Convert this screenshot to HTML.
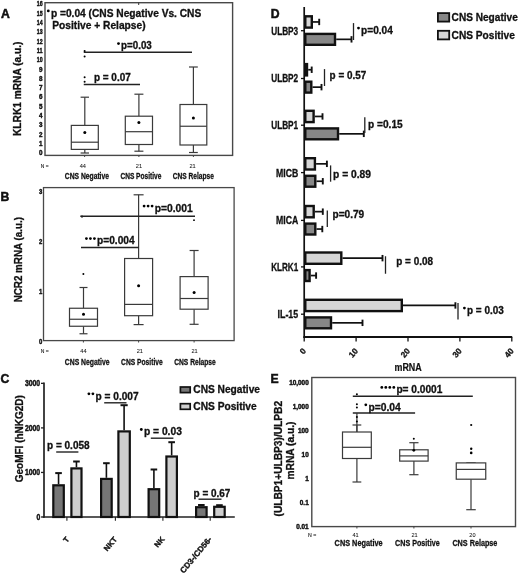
<!DOCTYPE html>
<html><head><meta charset="utf-8"><style>
html,body{margin:0;padding:0;background:#fff;}
svg{display:block;font-family:"Liberation Sans", sans-serif;font-weight:bold;}
svg text{fill:#111;stroke:#111;stroke-width:0.3px;}
</style></head><body>
<svg width="520" height="574" viewBox="0 0 520 574" style="filter:grayscale(1) blur(0.3px)">
<rect width="520" height="574" fill="#fff"/>
<text x="1.00" y="17.60" font-size="12.2" style="stroke-width:0.5px">A</text>
<text x="21.20" y="88.75" font-size="10.2" text-anchor="middle" textLength="94.50" lengthAdjust="spacingAndGlyphs" transform="rotate(-90 21.20 88.75)">KLRK1 mRNA (a.u.)</text>
<rect x="45.00" y="2.70" width="187.60" height="152.70" fill="none" stroke="#484848" stroke-width="1.4"/>
<text x="42.60" y="155.40" font-size="7.5" text-anchor="end" textLength="3.50" lengthAdjust="spacingAndGlyphs" style="stroke-width:0.45px">0</text>
<text x="42.60" y="146.08" font-size="7.5" text-anchor="end" textLength="3.50" lengthAdjust="spacingAndGlyphs" style="stroke-width:0.45px">1</text>
<text x="42.60" y="136.76" font-size="7.5" text-anchor="end" textLength="3.50" lengthAdjust="spacingAndGlyphs" style="stroke-width:0.45px">2</text>
<text x="42.60" y="127.44" font-size="7.5" text-anchor="end" textLength="3.50" lengthAdjust="spacingAndGlyphs" style="stroke-width:0.45px">3</text>
<text x="42.60" y="118.12" font-size="7.5" text-anchor="end" textLength="3.50" lengthAdjust="spacingAndGlyphs" style="stroke-width:0.45px">4</text>
<text x="42.60" y="108.80" font-size="7.5" text-anchor="end" textLength="3.50" lengthAdjust="spacingAndGlyphs" style="stroke-width:0.45px">5</text>
<text x="42.60" y="99.48" font-size="7.5" text-anchor="end" textLength="3.50" lengthAdjust="spacingAndGlyphs" style="stroke-width:0.45px">6</text>
<text x="42.60" y="90.16" font-size="7.5" text-anchor="end" textLength="3.50" lengthAdjust="spacingAndGlyphs" style="stroke-width:0.45px">7</text>
<text x="42.60" y="80.84" font-size="7.5" text-anchor="end" textLength="3.50" lengthAdjust="spacingAndGlyphs" style="stroke-width:0.45px">8</text>
<text x="42.60" y="71.52" font-size="7.5" text-anchor="end" textLength="3.50" lengthAdjust="spacingAndGlyphs" style="stroke-width:0.45px">9</text>
<text x="42.60" y="62.20" font-size="7.5" text-anchor="end" textLength="5.80" lengthAdjust="spacingAndGlyphs" style="stroke-width:0.45px">10</text>
<text x="42.60" y="52.88" font-size="7.5" text-anchor="end" textLength="5.80" lengthAdjust="spacingAndGlyphs" style="stroke-width:0.45px">11</text>
<text x="42.60" y="43.56" font-size="7.5" text-anchor="end" textLength="5.80" lengthAdjust="spacingAndGlyphs" style="stroke-width:0.45px">12</text>
<text x="42.60" y="34.24" font-size="7.5" text-anchor="end" textLength="5.80" lengthAdjust="spacingAndGlyphs" style="stroke-width:0.45px">13</text>
<text x="42.60" y="24.92" font-size="7.5" text-anchor="end" textLength="5.80" lengthAdjust="spacingAndGlyphs" style="stroke-width:0.45px">14</text>
<text x="42.60" y="15.60" font-size="7.5" text-anchor="end" textLength="5.80" lengthAdjust="spacingAndGlyphs" style="stroke-width:0.45px">15</text>
<text x="42.60" y="6.28" font-size="7.5" text-anchor="end" textLength="5.80" lengthAdjust="spacingAndGlyphs" style="stroke-width:0.45px">16</text>
<line x1="138.70" y1="2.60" x2="138.70" y2="5.00" stroke="#333" stroke-width="1"/>
<line x1="84.60" y1="155.00" x2="84.60" y2="157.00" stroke="#444" stroke-width="1"/>
<line x1="138.90" y1="155.00" x2="138.90" y2="157.00" stroke="#444" stroke-width="1"/>
<line x1="193.40" y1="155.00" x2="193.40" y2="157.00" stroke="#444" stroke-width="1"/>
<line x1="84.80" y1="97.20" x2="84.80" y2="125.40" stroke="#3a3a3a" stroke-width="1.2"/>
<line x1="84.80" y1="149.40" x2="84.80" y2="153.00" stroke="#3a3a3a" stroke-width="1.2"/>
<line x1="80.60" y1="97.20" x2="89.00" y2="97.20" stroke="#3a3a3a" stroke-width="1.2"/>
<line x1="80.60" y1="153.00" x2="89.00" y2="153.00" stroke="#3a3a3a" stroke-width="1.2"/>
<rect x="71.30" y="125.40" width="27.00" height="24.00" fill="#fff" stroke="#3a3a3a" stroke-width="1.2"/>
<line x1="71.30" y1="142.20" x2="98.30" y2="142.20" stroke="#3a3a3a" stroke-width="1.2"/>
<circle cx="84.80" cy="132.50" r="1.5" fill="#000"/>
<line x1="138.90" y1="94.20" x2="138.90" y2="116.20" stroke="#3a3a3a" stroke-width="1.2"/>
<line x1="138.90" y1="144.50" x2="138.90" y2="151.20" stroke="#3a3a3a" stroke-width="1.2"/>
<line x1="134.40" y1="94.20" x2="143.40" y2="94.20" stroke="#3a3a3a" stroke-width="1.2"/>
<line x1="134.40" y1="151.20" x2="143.40" y2="151.20" stroke="#3a3a3a" stroke-width="1.2"/>
<rect x="125.30" y="116.20" width="27.20" height="28.30" fill="#fff" stroke="#3a3a3a" stroke-width="1.2"/>
<line x1="125.30" y1="131.70" x2="152.50" y2="131.70" stroke="#3a3a3a" stroke-width="1.2"/>
<circle cx="138.90" cy="122.50" r="1.5" fill="#000"/>
<line x1="193.40" y1="67.00" x2="193.40" y2="104.50" stroke="#3a3a3a" stroke-width="1.2"/>
<line x1="193.40" y1="145.00" x2="193.40" y2="152.50" stroke="#3a3a3a" stroke-width="1.2"/>
<line x1="189.00" y1="67.00" x2="197.80" y2="67.00" stroke="#3a3a3a" stroke-width="1.2"/>
<line x1="189.00" y1="152.50" x2="197.80" y2="152.50" stroke="#3a3a3a" stroke-width="1.2"/>
<rect x="180.00" y="104.50" width="26.80" height="40.50" fill="#fff" stroke="#3a3a3a" stroke-width="1.2"/>
<line x1="180.00" y1="126.25" x2="206.80" y2="126.25" stroke="#3a3a3a" stroke-width="1.2"/>
<circle cx="193.40" cy="118.00" r="1.5" fill="#000"/>
<line x1="83.75" y1="52.20" x2="192.00" y2="52.20" stroke="#222" stroke-width="1.5"/>
<line x1="83.75" y1="84.50" x2="140.00" y2="84.50" stroke="#222" stroke-width="1.5"/>
<circle cx="84.60" cy="51.00" r="1.0" fill="#000"/>
<circle cx="84.60" cy="56.40" r="1.0" fill="#000"/>
<circle cx="84.60" cy="77.30" r="1.0" fill="#000"/>
<circle cx="84.60" cy="81.70" r="1.0" fill="#000"/>
<circle cx="48.30" cy="10.90" r="1.4" fill="#000"/>
<text x="50.90" y="16.60" font-size="10.2" textLength="150.40" lengthAdjust="spacingAndGlyphs">p =0.04 (CNS Negative Vs. CNS</text>
<text x="52.30" y="28.50" font-size="10.2" textLength="93.30" lengthAdjust="spacingAndGlyphs">Positive + Relapse)</text>
<circle cx="118.50" cy="43.60" r="1.4" fill="#000"/>
<text x="121.10" y="49.30" font-size="10" textLength="30.70" lengthAdjust="spacingAndGlyphs">p=0.03</text>
<text x="93.90" y="80.80" font-size="10" textLength="36.90" lengthAdjust="spacingAndGlyphs">p = 0.07</text>
<text x="40.80" y="167.80" font-size="5.2" font-weight="normal" textLength="7.70" lengthAdjust="spacingAndGlyphs" style="stroke-width:0.1px">N =</text>
<text x="82.80" y="167.90" font-size="5.6" font-weight="normal" text-anchor="middle" style="stroke-width:0.05px">44</text>
<text x="64.80" y="179.10" font-size="9" textLength="44.20" lengthAdjust="spacingAndGlyphs" style="stroke-width:0.3px">CNS Negative</text>
<text x="138.90" y="167.90" font-size="5.6" font-weight="normal" text-anchor="middle" style="stroke-width:0.05px">21</text>
<text x="120.40" y="179.10" font-size="9" textLength="40.90" lengthAdjust="spacingAndGlyphs" style="stroke-width:0.3px">CNS Positive</text>
<text x="192.60" y="167.90" font-size="5.6" font-weight="normal" text-anchor="middle" style="stroke-width:0.05px">21</text>
<text x="172.80" y="179.10" font-size="9" textLength="41.10" lengthAdjust="spacingAndGlyphs" style="stroke-width:0.3px">CNS Relapse</text>
<text x="0.60" y="200.80" font-size="12.2" style="stroke-width:0.5px">B</text>
<text x="22.40" y="259.70" font-size="10" text-anchor="middle" textLength="85.30" lengthAdjust="spacingAndGlyphs" transform="rotate(-90 22.40 259.70)">NCR2 mRNA (a.u.)</text>
<rect x="43.50" y="187.60" width="190.60" height="153.00" fill="none" stroke="#484848" stroke-width="1.3"/>
<text x="42.20" y="343.50" font-size="7.5" text-anchor="end" textLength="3.30" lengthAdjust="spacingAndGlyphs" style="stroke-width:0.45px">0</text>
<text x="42.20" y="293.80" font-size="7.5" text-anchor="end" textLength="3.30" lengthAdjust="spacingAndGlyphs" style="stroke-width:0.45px">1</text>
<text x="42.20" y="244.10" font-size="7.5" text-anchor="end" textLength="3.30" lengthAdjust="spacingAndGlyphs" style="stroke-width:0.45px">2</text>
<text x="42.20" y="194.40" font-size="7.5" text-anchor="end" textLength="3.30" lengthAdjust="spacingAndGlyphs" style="stroke-width:0.45px">3</text>
<line x1="83.40" y1="340.50" x2="83.40" y2="342.50" stroke="#444" stroke-width="1"/>
<line x1="138.60" y1="340.50" x2="138.60" y2="342.50" stroke="#444" stroke-width="1"/>
<line x1="194.10" y1="340.50" x2="194.10" y2="342.50" stroke="#444" stroke-width="1"/>
<line x1="83.50" y1="287.50" x2="83.50" y2="308.25" stroke="#3a3a3a" stroke-width="1.2"/>
<line x1="83.50" y1="326.25" x2="83.50" y2="333.75" stroke="#3a3a3a" stroke-width="1.2"/>
<line x1="79.50" y1="287.50" x2="87.50" y2="287.50" stroke="#3a3a3a" stroke-width="1.2"/>
<line x1="79.50" y1="333.75" x2="87.50" y2="333.75" stroke="#3a3a3a" stroke-width="1.2"/>
<rect x="69.50" y="308.25" width="28.00" height="18.00" fill="#fff" stroke="#3a3a3a" stroke-width="1.2"/>
<line x1="69.50" y1="319.25" x2="97.50" y2="319.25" stroke="#3a3a3a" stroke-width="1.2"/>
<circle cx="83.50" cy="314.25" r="1.5" fill="#000"/>
<line x1="138.60" y1="194.80" x2="138.60" y2="258.50" stroke="#3a3a3a" stroke-width="1.2"/>
<line x1="138.60" y1="315.70" x2="138.60" y2="324.60" stroke="#3a3a3a" stroke-width="1.2"/>
<line x1="133.60" y1="194.80" x2="143.60" y2="194.80" stroke="#3a3a3a" stroke-width="1.2"/>
<line x1="133.60" y1="324.60" x2="143.60" y2="324.60" stroke="#3a3a3a" stroke-width="1.2"/>
<rect x="124.60" y="258.50" width="28.00" height="57.20" fill="#fff" stroke="#3a3a3a" stroke-width="1.2"/>
<line x1="124.60" y1="304.40" x2="152.60" y2="304.40" stroke="#3a3a3a" stroke-width="1.2"/>
<circle cx="138.60" cy="285.80" r="1.5" fill="#000"/>
<line x1="194.10" y1="250.50" x2="194.10" y2="276.60" stroke="#3a3a3a" stroke-width="1.2"/>
<line x1="194.10" y1="309.20" x2="194.10" y2="324.30" stroke="#3a3a3a" stroke-width="1.2"/>
<line x1="189.60" y1="250.50" x2="198.60" y2="250.50" stroke="#3a3a3a" stroke-width="1.2"/>
<line x1="189.60" y1="324.30" x2="198.60" y2="324.30" stroke="#3a3a3a" stroke-width="1.2"/>
<rect x="180.10" y="276.60" width="28.00" height="32.60" fill="#fff" stroke="#3a3a3a" stroke-width="1.2"/>
<line x1="180.10" y1="298.50" x2="208.10" y2="298.50" stroke="#3a3a3a" stroke-width="1.2"/>
<circle cx="194.10" cy="292.60" r="1.5" fill="#000"/>
<circle cx="83.40" cy="274.10" r="1.0" fill="#000"/>
<circle cx="194.00" cy="220.20" r="0.9" fill="#000"/>
<circle cx="82.00" cy="216.60" r="1.1" fill="#000"/>
<line x1="80.30" y1="216.20" x2="195.00" y2="216.20" stroke="#222" stroke-width="1.5"/>
<line x1="81.00" y1="247.40" x2="138.70" y2="247.40" stroke="#222" stroke-width="1.5"/>
<circle cx="144.10" cy="206.10" r="1.4" fill="#000"/>
<circle cx="148.10" cy="206.10" r="1.4" fill="#000"/>
<circle cx="152.10" cy="206.10" r="1.4" fill="#000"/>
<text x="154.70" y="211.80" font-size="10.2" textLength="38.10" lengthAdjust="spacingAndGlyphs">p=0.001</text>
<circle cx="86.40" cy="238.60" r="1.4" fill="#000"/>
<circle cx="90.40" cy="238.60" r="1.4" fill="#000"/>
<circle cx="94.40" cy="238.60" r="1.4" fill="#000"/>
<text x="97.00" y="244.30" font-size="10.2" textLength="37.60" lengthAdjust="spacingAndGlyphs">p=0.004</text>
<text x="40.80" y="353.00" font-size="5.2" font-weight="normal" textLength="8.00" lengthAdjust="spacingAndGlyphs" style="stroke-width:0.1px">N =</text>
<text x="83.40" y="353.10" font-size="5.6" font-weight="normal" text-anchor="middle" style="stroke-width:0.05px">44</text>
<text x="64.80" y="365.00" font-size="9" textLength="44.80" lengthAdjust="spacingAndGlyphs" style="stroke-width:0.3px">CNS Negative</text>
<text x="139.80" y="353.10" font-size="5.6" font-weight="normal" text-anchor="middle" style="stroke-width:0.05px">21</text>
<text x="121.10" y="365.00" font-size="9" textLength="41.60" lengthAdjust="spacingAndGlyphs" style="stroke-width:0.3px">CNS Positive</text>
<text x="194.60" y="353.10" font-size="5.6" font-weight="normal" text-anchor="middle" style="stroke-width:0.05px">21</text>
<text x="174.20" y="365.00" font-size="9" textLength="41.60" lengthAdjust="spacingAndGlyphs" style="stroke-width:0.3px">CNS Relapse</text>
<text x="0.60" y="382.60" font-size="12.2" style="stroke-width:0.5px">C</text>
<text x="23.30" y="438.70" font-size="10" text-anchor="middle" textLength="87.10" lengthAdjust="spacingAndGlyphs" transform="rotate(-90 23.30 438.70)">GeoMFI (hNKG2D)</text>
<line x1="44.00" y1="382.60" x2="44.00" y2="517.80" stroke="#222" stroke-width="1.7"/>
<line x1="42.70" y1="517.00" x2="234.80" y2="517.00" stroke="#222" stroke-width="1.6"/>
<line x1="41.00" y1="517.00" x2="44.00" y2="517.00" stroke="#222" stroke-width="1.3"/>
<text x="40.20" y="519.90" font-size="8.2" text-anchor="end" textLength="3.80" lengthAdjust="spacingAndGlyphs" style="stroke-width:0.45px">0</text>
<line x1="41.00" y1="472.45" x2="44.00" y2="472.45" stroke="#222" stroke-width="1.3"/>
<text x="40.20" y="475.35" font-size="8.2" text-anchor="end" textLength="15.30" lengthAdjust="spacingAndGlyphs" style="stroke-width:0.45px">1000</text>
<line x1="41.00" y1="427.90" x2="44.00" y2="427.90" stroke="#222" stroke-width="1.3"/>
<text x="40.20" y="430.80" font-size="8.2" text-anchor="end" textLength="15.30" lengthAdjust="spacingAndGlyphs" style="stroke-width:0.45px">2000</text>
<line x1="41.00" y1="383.35" x2="44.00" y2="383.35" stroke="#222" stroke-width="1.3"/>
<text x="40.20" y="386.25" font-size="8.2" text-anchor="end" textLength="15.30" lengthAdjust="spacingAndGlyphs" style="stroke-width:0.45px">3000</text>
<line x1="58.55" y1="473.10" x2="58.55" y2="484.20" stroke="#111" stroke-width="1.6"/>
<line x1="55.25" y1="473.10" x2="61.85" y2="473.10" stroke="#111" stroke-width="2.0"/>
<rect x="53.30" y="485.30" width="10.50" height="31.70" fill="#767676" stroke="#111" stroke-width="2.2"/>
<line x1="76.45" y1="461.50" x2="76.45" y2="467.30" stroke="#111" stroke-width="1.6"/>
<line x1="73.15" y1="461.50" x2="79.75" y2="461.50" stroke="#111" stroke-width="2.0"/>
<rect x="71.40" y="468.40" width="10.10" height="48.60" fill="#cecece" stroke="#111" stroke-width="2.2"/>
<line x1="106.40" y1="463.20" x2="106.40" y2="477.80" stroke="#111" stroke-width="1.6"/>
<line x1="103.10" y1="463.20" x2="109.70" y2="463.20" stroke="#111" stroke-width="2.0"/>
<rect x="101.10" y="478.90" width="10.60" height="38.10" fill="#767676" stroke="#111" stroke-width="2.2"/>
<line x1="124.10" y1="405.20" x2="124.10" y2="430.30" stroke="#111" stroke-width="1.6"/>
<line x1="120.50" y1="405.20" x2="127.70" y2="405.20" stroke="#111" stroke-width="2.0"/>
<rect x="118.40" y="431.40" width="11.40" height="85.60" fill="#cecece" stroke="#111" stroke-width="2.2"/>
<line x1="153.90" y1="469.50" x2="153.90" y2="488.10" stroke="#111" stroke-width="1.6"/>
<line x1="150.60" y1="469.50" x2="157.20" y2="469.50" stroke="#111" stroke-width="2.0"/>
<rect x="148.60" y="489.20" width="10.60" height="27.80" fill="#767676" stroke="#111" stroke-width="2.2"/>
<line x1="171.65" y1="442.20" x2="171.65" y2="455.40" stroke="#111" stroke-width="1.6"/>
<line x1="168.35" y1="442.20" x2="174.95" y2="442.20" stroke="#111" stroke-width="2.0"/>
<rect x="166.40" y="456.50" width="10.50" height="60.50" fill="#cecece" stroke="#111" stroke-width="2.2"/>
<line x1="201.35" y1="505.00" x2="201.35" y2="506.10" stroke="#111" stroke-width="1.6"/>
<line x1="198.05" y1="505.00" x2="204.65" y2="505.00" stroke="#111" stroke-width="2.0"/>
<rect x="196.10" y="507.20" width="10.50" height="9.80" fill="#767676" stroke="#111" stroke-width="2.2"/>
<line x1="219.45" y1="505.20" x2="219.45" y2="505.70" stroke="#111" stroke-width="1.6"/>
<line x1="216.15" y1="505.20" x2="222.75" y2="505.20" stroke="#111" stroke-width="2.0"/>
<rect x="214.20" y="506.80" width="10.50" height="10.20" fill="#cecece" stroke="#111" stroke-width="2.2"/>
<line x1="66.90" y1="517.00" x2="66.90" y2="520.80" stroke="#222" stroke-width="1.1"/>
<line x1="115.40" y1="517.00" x2="115.40" y2="520.80" stroke="#222" stroke-width="1.1"/>
<line x1="162.90" y1="517.00" x2="162.90" y2="520.80" stroke="#222" stroke-width="1.1"/>
<line x1="210.20" y1="517.00" x2="210.20" y2="520.80" stroke="#222" stroke-width="1.1"/>
<text x="47.00" y="448.80" font-size="10" textLength="42.60" lengthAdjust="spacingAndGlyphs">p = 0.058</text>
<line x1="56.20" y1="452.00" x2="78.40" y2="452.00" stroke="#222" stroke-width="1.4"/>
<circle cx="88.90" cy="393.80" r="1.4" fill="#000"/>
<circle cx="92.90" cy="393.80" r="1.4" fill="#000"/>
<text x="95.50" y="399.50" font-size="10.2" textLength="43.10" lengthAdjust="spacingAndGlyphs">p = 0.007</text>
<line x1="104.20" y1="402.80" x2="126.50" y2="402.80" stroke="#222" stroke-width="1.4"/>
<circle cx="141.30" cy="429.50" r="1.4" fill="#000"/>
<text x="143.90" y="435.20" font-size="10.2" textLength="38.00" lengthAdjust="spacingAndGlyphs">p = 0.03</text>
<line x1="150.80" y1="438.20" x2="173.40" y2="438.20" stroke="#222" stroke-width="1.4"/>
<text x="193.60" y="497.00" font-size="10" textLength="36.80" lengthAdjust="spacingAndGlyphs">p = 0.67</text>
<line x1="198.50" y1="499.20" x2="221.50" y2="499.20" stroke="#222" stroke-width="1.4"/>
<rect x="180.40" y="387.00" width="9.80" height="5.60" fill="#767676" stroke="#111" stroke-width="1.7"/>
<rect x="180.40" y="403.70" width="9.80" height="5.60" fill="#cecece" stroke="#111" stroke-width="1.7"/>
<text x="193.30" y="393.40" font-size="10.2" textLength="66.70" lengthAdjust="spacingAndGlyphs">CNS Negative</text>
<text x="193.30" y="410.20" font-size="10.2" textLength="63.40" lengthAdjust="spacingAndGlyphs">CNS Positive</text>
<text x="69.90" y="539.60" font-size="7.7" text-anchor="end" transform="rotate(-50 69.90 539.60)" style="stroke-width:0.35px">T</text>
<text x="117.50" y="539.60" font-size="7.7" text-anchor="end" transform="rotate(-50 117.50 539.60)" style="stroke-width:0.35px">NKT</text>
<text x="165.00" y="539.60" font-size="7.7" text-anchor="end" transform="rotate(-50 165.00 539.60)" style="stroke-width:0.35px">NK</text>
<text x="212.30" y="539.60" font-size="8.1" text-anchor="end" transform="rotate(-50 212.30 539.60)" style="stroke-width:0.35px">CD3-/CD56-</text>
<text x="270.80" y="17.80" font-size="12.2" style="stroke-width:0.5px">D</text>
<line x1="304.20" y1="6.90" x2="304.20" y2="337.80" stroke="#111" stroke-width="1.7"/>
<line x1="303.40" y1="337.00" x2="512.20" y2="337.00" stroke="#111" stroke-width="1.8"/>
<line x1="304.20" y1="337.00" x2="304.20" y2="341.50" stroke="#111" stroke-width="1.3"/>
<text x="306.60" y="351.20" font-size="8.3" text-anchor="end" transform="rotate(-50 306.60 351.20)" style="stroke-width:0.3px">0</text>
<line x1="356.10" y1="337.00" x2="356.10" y2="341.50" stroke="#111" stroke-width="1.3"/>
<text x="358.50" y="351.20" font-size="8.3" text-anchor="end" transform="rotate(-50 358.50 351.20)" style="stroke-width:0.3px">10</text>
<line x1="408.00" y1="337.00" x2="408.00" y2="341.50" stroke="#111" stroke-width="1.3"/>
<text x="410.40" y="351.20" font-size="8.3" text-anchor="end" transform="rotate(-50 410.40 351.20)" style="stroke-width:0.3px">20</text>
<line x1="459.90" y1="337.00" x2="459.90" y2="341.50" stroke="#111" stroke-width="1.3"/>
<text x="462.30" y="351.20" font-size="8.3" text-anchor="end" transform="rotate(-50 462.30 351.20)" style="stroke-width:0.3px">30</text>
<line x1="511.80" y1="337.00" x2="511.80" y2="341.50" stroke="#111" stroke-width="1.3"/>
<text x="514.20" y="351.20" font-size="8.3" text-anchor="end" transform="rotate(-50 514.20 351.20)" style="stroke-width:0.3px">40</text>
<text x="408.10" y="371.00" font-size="10.2" text-anchor="middle" textLength="27.20" lengthAdjust="spacingAndGlyphs" style="stroke-width:0.2px">mRNA</text>
<line x1="301.00" y1="30.70" x2="304.20" y2="30.70" stroke="#111" stroke-width="1.3"/>
<text x="298.20" y="34.60" font-size="10.5" text-anchor="end" textLength="27.00" lengthAdjust="spacingAndGlyphs">ULBP3</text>
<line x1="313.00" y1="21.95" x2="319.20" y2="21.95" stroke="#111" stroke-width="1.7"/>
<line x1="319.20" y1="18.75" x2="319.20" y2="25.15" stroke="#111" stroke-width="1.9"/>
<rect x="305.30" y="16.30" width="6.50" height="11.30" fill="#d6d6d6" stroke="#111" stroke-width="2.4"/>
<line x1="336.20" y1="39.35" x2="351.50" y2="39.35" stroke="#111" stroke-width="1.7"/>
<line x1="351.50" y1="36.15" x2="351.50" y2="42.55" stroke="#111" stroke-width="1.9"/>
<rect x="305.30" y="33.90" width="29.70" height="10.90" fill="#878787" stroke="#111" stroke-width="2.4"/>
<line x1="353.50" y1="23.10" x2="353.50" y2="40.00" stroke="#222" stroke-width="1.3"/>
<circle cx="358.50" cy="28.10" r="1.4" fill="#000"/>
<text x="361.10" y="33.80" font-size="10" textLength="31.70" lengthAdjust="spacingAndGlyphs">p=0.04</text>
<line x1="301.00" y1="78.50" x2="304.20" y2="78.50" stroke="#111" stroke-width="1.3"/>
<text x="298.20" y="82.40" font-size="10.5" text-anchor="end" textLength="27.00" lengthAdjust="spacingAndGlyphs">ULBP2</text>
<line x1="308.20" y1="69.75" x2="311.70" y2="69.75" stroke="#111" stroke-width="1.7"/>
<line x1="311.70" y1="66.55" x2="311.70" y2="72.95" stroke="#111" stroke-width="1.9"/>
<rect x="305.30" y="64.10" width="1.70" height="11.30" fill="#d6d6d6" stroke="#111" stroke-width="2.4"/>
<line x1="312.50" y1="87.15" x2="321.50" y2="87.15" stroke="#111" stroke-width="1.7"/>
<line x1="321.50" y1="83.95" x2="321.50" y2="90.35" stroke="#111" stroke-width="1.9"/>
<rect x="305.30" y="81.70" width="6.00" height="10.90" fill="#878787" stroke="#111" stroke-width="2.4"/>
<line x1="324.50" y1="69.10" x2="324.50" y2="86.00" stroke="#222" stroke-width="1.3"/>
<text x="329.60" y="79.20" font-size="10" textLength="36.60" lengthAdjust="spacingAndGlyphs">p = 0.57</text>
<line x1="301.00" y1="125.20" x2="304.20" y2="125.20" stroke="#111" stroke-width="1.3"/>
<text x="298.20" y="129.10" font-size="10.5" text-anchor="end" textLength="27.00" lengthAdjust="spacingAndGlyphs">ULBP1</text>
<line x1="314.80" y1="116.45" x2="322.50" y2="116.45" stroke="#111" stroke-width="1.7"/>
<line x1="322.50" y1="113.25" x2="322.50" y2="119.65" stroke="#111" stroke-width="1.9"/>
<rect x="305.30" y="110.80" width="8.30" height="11.30" fill="#d6d6d6" stroke="#111" stroke-width="2.4"/>
<line x1="339.20" y1="133.85" x2="363.80" y2="133.85" stroke="#111" stroke-width="1.7"/>
<line x1="363.80" y1="130.65" x2="363.80" y2="137.05" stroke="#111" stroke-width="1.9"/>
<rect x="305.30" y="128.40" width="32.70" height="10.90" fill="#878787" stroke="#111" stroke-width="2.4"/>
<line x1="364.80" y1="117.30" x2="364.80" y2="133.10" stroke="#222" stroke-width="1.3"/>
<text x="368.10" y="127.70" font-size="10" textLength="34.60" lengthAdjust="spacingAndGlyphs">p =0.15</text>
<line x1="301.00" y1="172.60" x2="304.20" y2="172.60" stroke="#111" stroke-width="1.3"/>
<text x="298.20" y="176.50" font-size="10.5" text-anchor="end" textLength="22.20" lengthAdjust="spacingAndGlyphs">MICB</text>
<line x1="316.10" y1="163.85" x2="326.90" y2="163.85" stroke="#111" stroke-width="1.7"/>
<line x1="326.90" y1="160.65" x2="326.90" y2="167.05" stroke="#111" stroke-width="1.9"/>
<rect x="305.30" y="158.20" width="9.60" height="11.30" fill="#d6d6d6" stroke="#111" stroke-width="2.4"/>
<line x1="316.50" y1="181.25" x2="322.80" y2="181.25" stroke="#111" stroke-width="1.7"/>
<line x1="322.80" y1="178.05" x2="322.80" y2="184.45" stroke="#111" stroke-width="1.9"/>
<rect x="305.30" y="175.80" width="10.00" height="10.90" fill="#878787" stroke="#111" stroke-width="2.4"/>
<line x1="330.60" y1="165.40" x2="330.60" y2="181.70" stroke="#222" stroke-width="1.3"/>
<text x="333.10" y="177.90" font-size="10" textLength="37.90" lengthAdjust="spacingAndGlyphs">p = 0.89</text>
<line x1="301.00" y1="220.40" x2="304.20" y2="220.40" stroke="#111" stroke-width="1.3"/>
<text x="298.20" y="224.30" font-size="10.5" text-anchor="end" textLength="22.20" lengthAdjust="spacingAndGlyphs">MICA</text>
<line x1="314.90" y1="211.65" x2="322.80" y2="211.65" stroke="#111" stroke-width="1.7"/>
<line x1="322.80" y1="208.45" x2="322.80" y2="214.85" stroke="#111" stroke-width="1.9"/>
<rect x="305.30" y="206.00" width="8.40" height="11.30" fill="#d6d6d6" stroke="#111" stroke-width="2.4"/>
<line x1="316.50" y1="229.05" x2="322.30" y2="229.05" stroke="#111" stroke-width="1.7"/>
<line x1="322.30" y1="225.85" x2="322.30" y2="232.25" stroke="#111" stroke-width="1.9"/>
<rect x="305.30" y="223.60" width="10.00" height="10.90" fill="#878787" stroke="#111" stroke-width="2.4"/>
<line x1="327.30" y1="210.60" x2="327.30" y2="226.90" stroke="#222" stroke-width="1.3"/>
<text x="332.50" y="218.30" font-size="10" textLength="31.70" lengthAdjust="spacingAndGlyphs">p=0.79</text>
<line x1="301.00" y1="266.90" x2="304.20" y2="266.90" stroke="#111" stroke-width="1.3"/>
<text x="298.20" y="270.80" font-size="10.5" text-anchor="end" textLength="27.00" lengthAdjust="spacingAndGlyphs">KLRK1</text>
<line x1="342.50" y1="258.15" x2="382.50" y2="258.15" stroke="#111" stroke-width="1.7"/>
<line x1="382.50" y1="254.95" x2="382.50" y2="261.35" stroke="#111" stroke-width="1.9"/>
<rect x="305.30" y="252.50" width="36.00" height="11.30" fill="#d6d6d6" stroke="#111" stroke-width="2.4"/>
<line x1="310.80" y1="275.55" x2="316.10" y2="275.55" stroke="#111" stroke-width="1.7"/>
<line x1="316.10" y1="272.35" x2="316.10" y2="278.75" stroke="#111" stroke-width="1.9"/>
<rect x="305.30" y="270.10" width="4.30" height="10.90" fill="#878787" stroke="#111" stroke-width="2.4"/>
<line x1="385.50" y1="256.25" x2="385.50" y2="273.75" stroke="#222" stroke-width="1.3"/>
<text x="396.25" y="264.50" font-size="10" textLength="36.75" lengthAdjust="spacingAndGlyphs">p = 0.08</text>
<line x1="301.00" y1="314.20" x2="304.20" y2="314.20" stroke="#111" stroke-width="1.3"/>
<text x="298.20" y="318.10" font-size="10.5" text-anchor="end" textLength="20.70" lengthAdjust="spacingAndGlyphs">IL-15</text>
<line x1="403.00" y1="305.45" x2="455.40" y2="305.45" stroke="#111" stroke-width="1.7"/>
<line x1="455.40" y1="302.25" x2="455.40" y2="308.65" stroke="#111" stroke-width="1.9"/>
<rect x="305.30" y="299.80" width="96.50" height="11.30" fill="#d6d6d6" stroke="#111" stroke-width="2.4"/>
<line x1="332.20" y1="322.85" x2="362.50" y2="322.85" stroke="#111" stroke-width="1.7"/>
<line x1="362.50" y1="319.65" x2="362.50" y2="326.05" stroke="#111" stroke-width="1.9"/>
<rect x="305.30" y="317.40" width="25.70" height="10.90" fill="#878787" stroke="#111" stroke-width="2.4"/>
<line x1="458.00" y1="303.10" x2="458.00" y2="319.50" stroke="#222" stroke-width="1.3"/>
<circle cx="464.40" cy="308.10" r="1.4" fill="#000"/>
<text x="467.00" y="313.80" font-size="10" textLength="36.80" lengthAdjust="spacingAndGlyphs">p = 0.03</text>
<rect x="437.90" y="13.10" width="11.30" height="8.50" fill="#878787" stroke="#111" stroke-width="1.8"/>
<rect x="437.90" y="30.80" width="11.30" height="8.60" fill="#d6d6d6" stroke="#111" stroke-width="1.8"/>
<text x="451.60" y="20.90" font-size="10.5" textLength="66.20" lengthAdjust="spacingAndGlyphs">CNS Negative</text>
<text x="451.60" y="38.50" font-size="10.5" textLength="63.20" lengthAdjust="spacingAndGlyphs">CNS Positive</text>
<text x="270.60" y="382.80" font-size="12.2" style="stroke-width:0.5px">E</text>
<text x="282.00" y="458.70" font-size="10.2" text-anchor="middle" textLength="115.60" lengthAdjust="spacingAndGlyphs" transform="rotate(-90 282.00 458.70)">(ULBP1+ULBP3)/ULPB2</text>
<text x="293.70" y="450.50" font-size="10.2" text-anchor="middle" textLength="58.00" lengthAdjust="spacingAndGlyphs" transform="rotate(-90 293.70 450.50)">mRNA (a.u.)</text>
<rect x="311.80" y="377.50" width="203.70" height="149.10" fill="none" stroke="#484848" stroke-width="1.4"/>
<text x="308.70" y="384.60" font-size="6.4" text-anchor="end" style="stroke-width:0.4px">10,000</text>
<text x="308.70" y="408.60" font-size="6.4" text-anchor="end" style="stroke-width:0.4px">1,000</text>
<text x="308.70" y="432.60" font-size="6.4" text-anchor="end" style="stroke-width:0.4px">100</text>
<text x="308.70" y="456.60" font-size="6.4" text-anchor="end" style="stroke-width:0.4px">10</text>
<text x="308.70" y="480.60" font-size="6.4" text-anchor="end" style="stroke-width:0.4px">1</text>
<text x="308.70" y="504.60" font-size="6.4" text-anchor="end" style="stroke-width:0.4px">0.1</text>
<text x="308.70" y="528.60" font-size="6.4" text-anchor="end" style="stroke-width:0.4px">0.01</text>
<line x1="356.90" y1="526.50" x2="356.90" y2="528.50" stroke="#444" stroke-width="1"/>
<line x1="413.90" y1="526.50" x2="413.90" y2="528.50" stroke="#444" stroke-width="1"/>
<line x1="471.00" y1="526.50" x2="471.00" y2="528.50" stroke="#444" stroke-width="1"/>
<line x1="356.90" y1="413.20" x2="356.90" y2="432.00" stroke="#3a3a3a" stroke-width="1.2"/>
<line x1="356.90" y1="425.00" x2="356.90" y2="432.00" stroke="#3a3a3a" stroke-width="1.2"/>
<line x1="356.90" y1="458.50" x2="356.90" y2="482.00" stroke="#3a3a3a" stroke-width="1.2"/>
<line x1="352.50" y1="425.00" x2="361.30" y2="425.00" stroke="#3a3a3a" stroke-width="1.2"/>
<line x1="352.50" y1="482.00" x2="361.30" y2="482.00" stroke="#3a3a3a" stroke-width="1.2"/>
<rect x="342.50" y="432.00" width="28.80" height="26.50" fill="#fff" stroke="#3a3a3a" stroke-width="1.2"/>
<line x1="342.50" y1="447.30" x2="371.30" y2="447.30" stroke="#3a3a3a" stroke-width="1.2"/>
<line x1="413.90" y1="442.70" x2="413.90" y2="449.80" stroke="#3a3a3a" stroke-width="1.2"/>
<line x1="413.90" y1="461.10" x2="413.90" y2="474.70" stroke="#3a3a3a" stroke-width="1.2"/>
<line x1="409.30" y1="442.70" x2="418.50" y2="442.70" stroke="#3a3a3a" stroke-width="1.2"/>
<line x1="409.30" y1="474.70" x2="418.50" y2="474.70" stroke="#3a3a3a" stroke-width="1.2"/>
<rect x="399.70" y="449.80" width="28.40" height="11.30" fill="#fff" stroke="#3a3a3a" stroke-width="1.2"/>
<line x1="399.70" y1="455.90" x2="428.10" y2="455.90" stroke="#3a3a3a" stroke-width="1.2"/>
<line x1="471.00" y1="462.90" x2="471.00" y2="462.90" stroke="#3a3a3a" stroke-width="1.2"/>
<line x1="471.00" y1="479.20" x2="471.00" y2="509.70" stroke="#3a3a3a" stroke-width="1.2"/>
<line x1="466.25" y1="462.90" x2="475.75" y2="462.90" stroke="#3a3a3a" stroke-width="1.2"/>
<line x1="466.25" y1="509.70" x2="475.75" y2="509.70" stroke="#3a3a3a" stroke-width="1.2"/>
<rect x="456.25" y="462.90" width="29.50" height="16.30" fill="#fff" stroke="#3a3a3a" stroke-width="1.2"/>
<line x1="456.25" y1="469.40" x2="485.75" y2="469.40" stroke="#3a3a3a" stroke-width="1.2"/>
<circle cx="356.90" cy="394.20" r="1.0" fill="#000"/>
<circle cx="356.90" cy="404.20" r="1.0" fill="#000"/>
<circle cx="356.90" cy="407.40" r="1.0" fill="#000"/>
<circle cx="356.90" cy="417.00" r="1.0" fill="#000"/>
<circle cx="356.90" cy="421.50" r="1.0" fill="#000"/>
<circle cx="413.80" cy="438.80" r="1.0" fill="#000"/>
<circle cx="413.80" cy="450.30" r="1.4" fill="#000"/>
<circle cx="471.20" cy="425.00" r="1.1" fill="#000"/>
<circle cx="471.20" cy="448.75" r="1.2" fill="#000"/>
<circle cx="471.20" cy="452.90" r="1.3" fill="#000"/>
<line x1="352.80" y1="396.20" x2="472.80" y2="396.20" stroke="#222" stroke-width="1.5"/>
<line x1="352.80" y1="413.10" x2="415.10" y2="413.10" stroke="#222" stroke-width="1.5"/>
<circle cx="381.80" cy="387.40" r="1.4" fill="#000"/>
<circle cx="385.80" cy="387.40" r="1.4" fill="#000"/>
<circle cx="389.80" cy="387.40" r="1.4" fill="#000"/>
<circle cx="393.80" cy="387.40" r="1.4" fill="#000"/>
<text x="396.40" y="393.10" font-size="10.2" textLength="46.00" lengthAdjust="spacingAndGlyphs">p= 0.0001</text>
<circle cx="365.80" cy="404.80" r="1.4" fill="#000"/>
<text x="368.40" y="410.50" font-size="10.2" textLength="32.40" lengthAdjust="spacingAndGlyphs">p=0.04</text>
<text x="308.10" y="536.80" font-size="5.2" font-weight="normal" textLength="8.20" lengthAdjust="spacingAndGlyphs" style="stroke-width:0.1px">N =</text>
<text x="355.60" y="536.90" font-size="5.6" font-weight="normal" text-anchor="middle" style="stroke-width:0.05px">41</text>
<text x="334.60" y="546.20" font-size="9.5" textLength="48.10" lengthAdjust="spacingAndGlyphs" style="stroke-width:0.3px">CNS Negative</text>
<text x="414.60" y="536.90" font-size="5.6" font-weight="normal" text-anchor="middle" style="stroke-width:0.05px">21</text>
<text x="395.10" y="546.20" font-size="9.5" textLength="44.60" lengthAdjust="spacingAndGlyphs" style="stroke-width:0.3px">CNS Positive</text>
<text x="472.40" y="536.90" font-size="5.6" font-weight="normal" text-anchor="middle" style="stroke-width:0.05px">20</text>
<text x="452.40" y="546.20" font-size="9.5" textLength="45.00" lengthAdjust="spacingAndGlyphs" style="stroke-width:0.3px">CNS Relapse</text>
</svg></body></html>
